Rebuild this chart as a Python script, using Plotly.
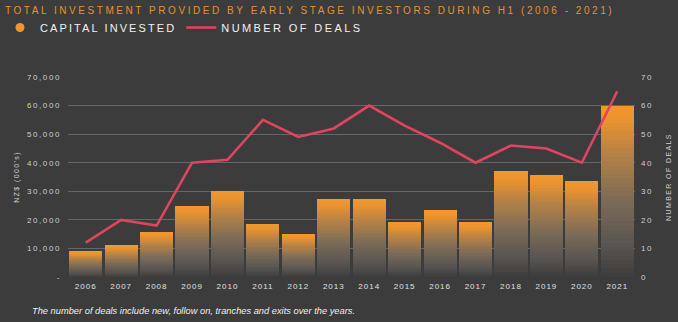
import plotly.graph_objects as go

# ---------------- data ----------------
years = ["2006", "2007", "2008", "2009", "2010", "2011", "2012", "2013",
         "2014", "2015", "2016", "2017", "2018", "2019", "2020", "2021"]
capital_invested = [9000, 11000, 15600, 24900, 30000, 18500, 15000, 27300,
                    27300, 19100, 23300, 19100, 37000, 35600, 33600, 60000]
number_of_deals = [12, 20, 18, 40, 41, 55, 49, 52,
                   60, 53, 47, 40, 46, 45, 40, 65]
left_tickvals = [0, 10000, 20000, 30000, 40000, 50000, 60000, 70000]
left_ticktext = ["-", "10,000", "20,000", "30,000", "40,000", "50,000", "60,000", "70,000"]
right_tickvals = [0, 10, 20, 30, 40, 50, 60, 70]

# ---------------- style ----------------
BG = "#3c3c3c"
ORANGE = "#f0952f"
PINK = "#e0445f"
GRID = "#666666"
FONT = "Liberation Sans, Arial, sans-serif"
W, H = 678, 322
ML, MR, MT, MB = 68, 43, 77, 45
PW, PH = W - ML - MR, H - MT - MB


def sp(text, px):
    return f'<span style="letter-spacing:{px}px">{text}</span>'


# gradient stops for the bars, bottom (0) -> top (1)
stops = [(0.0, (60, 60, 60)), (0.07, (72, 70, 69)), (0.2, (90, 86, 82)),
         (0.45, (124, 107, 88)), (0.7, (176, 128, 72)), (0.9, (230, 145, 50)),
         (1.0, (243, 152, 46))]


def grad(t):
    for (t0, c0), (t1, c1) in zip(stops[:-1], stops[1:]):
        if t0 <= t <= t1:
            f = (t - t0) / (t1 - t0)
            c = [round(a + (b - a) * f) for a, b in zip(c0, c1)]
            return f"rgb({c[0]},{c[1]},{c[2]})"
    c = stops[-1][1]
    return f"rgb({c[0]},{c[1]},{c[2]})"


N = 40
fig = go.Figure()
for i in range(N):
    fig.add_trace(go.Bar(
        x=years, y=[v / N for v in capital_invested],
        marker=dict(color=grad((i + 0.5) / N), line=dict(width=0)),
        showlegend=False, hoverinfo="skip", yaxis="y",
    ))

# legend entry for the capital series (circle symbol)
fig.add_trace(go.Scatter(
    x=[None], y=[None], mode="markers", name=sp("CAPITAL INVESTED", 2.1),
    marker=dict(color=ORANGE, size=9, symbol="circle"),
))

fig.add_trace(go.Scatter(
    x=years, y=number_of_deals, mode="lines", name=sp("NUMBER OF DEALS", 2.4),
    line=dict(color=PINK, width=2.6), yaxis="y2",
))

fig.update_layout(
    width=W, height=H,
    paper_bgcolor=BG, plot_bgcolor=BG,
    margin=dict(l=ML, r=MR, t=MT, b=MB, autoexpand=False),
    barmode="stack", bargap=0.065,
    font=dict(family=FONT, color="#d8d8d8"),
    title=dict(
        text=sp("TOTAL INVESTMENT PROVIDED BY EARLY STAGE INVESTORS DURING H1 (2006 - 2021)", 2.55),
        font=dict(size=10, color="#e8902f"),
        xref="container", x=5 / W, xanchor="left",
        yref="container", y=1 - 10 / H, yanchor="middle",
    ),
    legend=dict(
        orientation="h", xref="container", yref="container", traceorder="normal",
        x=0, y=1 - 13 / H, xanchor="left", yanchor="top",
        font=dict(size=11, color="#f2f2f2"), bgcolor="rgba(0,0,0,0)",
        itemwidth=30,
    ),
    xaxis=dict(
        type="category", showgrid=False, zeroline=False, showline=False,
        ticks="", tickfont=dict(size=8, color="#e0e0e0"), ticklabelstandoff=3,
        ticktext=[sp(y, 1) for y in years], tickvals=years,
    ),
    yaxis=dict(
        range=[0, 70000], tickvals=left_tickvals,
        ticktext=[sp(t, 1.6) for t in left_ticktext],
        showgrid=True, gridcolor=GRID, gridwidth=1, zeroline=False,
        showline=False, ticks="", tickfont=dict(size=8, color="#cfcfcf"),
        ticklabelstandoff=6,
        title=dict(text=sp("NZ$ (000's)", 1.4), font=dict(size=7, color="#cfcfcf"), standoff=6),
    ),
    yaxis2=dict(
        range=[0, 70], tickvals=right_tickvals,
        ticktext=[sp(str(t), 1.5) for t in right_tickvals],
        overlaying="y", side="right", showgrid=False, zeroline=False,
        showline=False, ticks="", tickfont=dict(size=8, color="#cfcfcf"),
        ticklabelstandoff=5,
        title=dict(text=sp("NUMBER OF DEALS", 1.4), font=dict(size=7, color="#cfcfcf"), standoff=14),
    ),
    annotations=[dict(
        text="<i>The number of deals include new, follow on, tranches and exits over the years.</i>",
        xref="paper", yref="paper", x=(30 - ML) / PW, y=(H - MB - 311) / PH,
        xanchor="left", yanchor="middle", showarrow=False,
        font=dict(size=9.3, color="#f0f0f0"),
    )],
)

fig.write_html("out.html")
